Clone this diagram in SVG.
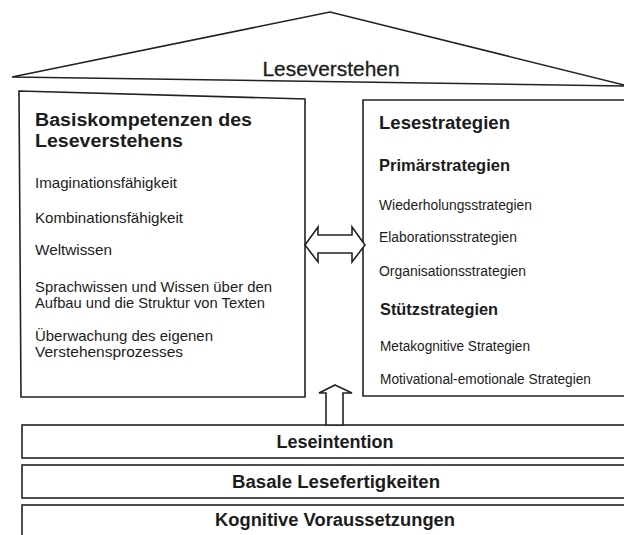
<svg xmlns="http://www.w3.org/2000/svg" width="624" height="535" viewBox="0 0 624 535">
<style>
  .ln{fill:#fff;stroke:#222;stroke-width:1.6;stroke-linejoin:miter}
  text{font-family:"Liberation Sans",Arial,sans-serif;fill:#1c1c1c}
  .b{font-weight:bold}
  .t{font-size:18px;font-weight:bold}
  .h{font-size:16.5px;font-weight:bold}
  .i{font-size:15px}
  .r{font-size:14px}
  .bar{font-size:18px;font-weight:bold}
</style>
<rect width="624" height="535" fill="#fff"/>
<g id="roof">
  <path class="ln" d="M12,77 L330,12 L628,86 L12,77 Z"/>
  <text x="331" y="76" font-size="20" text-anchor="middle" textLength="137" lengthAdjust="spacingAndGlyphs" stroke="#1c1c1c" stroke-width="0.3">Leseverstehen</text>
</g>
<g id="basiskompetenzen">
  <path class="ln" d="M19,91 L305,99 L305,397 L21,397 Z"/>
  <text class="t" x="35" y="126" textLength="217" lengthAdjust="spacingAndGlyphs">Basiskompetenzen des</text>
  <text class="t" x="35" y="147" textLength="148" lengthAdjust="spacingAndGlyphs">Leseverstehens</text>
  <text class="i" x="35" y="188" textLength="142" lengthAdjust="spacingAndGlyphs">Imaginationsfähigkeit</text>
  <text class="i" x="35" y="223" textLength="148" lengthAdjust="spacingAndGlyphs">Kombinationsfähigkeit</text>
  <text class="i" x="35" y="255" textLength="77" lengthAdjust="spacingAndGlyphs">Weltwissen</text>
  <text class="i" x="35" y="292" textLength="237" lengthAdjust="spacingAndGlyphs">Sprachwissen und Wissen über den</text>
  <text class="i" x="35" y="308" textLength="230" lengthAdjust="spacingAndGlyphs">Aufbau und die Struktur von Texten</text>
  <text class="i" x="35" y="341" textLength="178" lengthAdjust="spacingAndGlyphs">Überwachung des eigenen</text>
  <text class="i" x="35" y="357" textLength="148" lengthAdjust="spacingAndGlyphs">Verstehensprozesses</text>
</g>
<g id="lesestrategien">
  <path class="ln" d="M630,100 L363,100 L363,396 L630,396"/>
  <text class="b" font-size="18.6" x="379" y="129" textLength="131" lengthAdjust="spacingAndGlyphs">Lesestrategien</text>
  <text class="h" x="379" y="171" textLength="131" lengthAdjust="spacingAndGlyphs">Primärstrategien</text>
  <text class="r" x="379" y="210" textLength="153" lengthAdjust="spacingAndGlyphs">Wiederholungsstrategien</text>
  <text class="r" x="379" y="242" textLength="138" lengthAdjust="spacingAndGlyphs">Elaborationsstrategien</text>
  <text class="r" x="379" y="276" textLength="147" lengthAdjust="spacingAndGlyphs">Organisationsstrategien</text>
  <text class="h" x="380" y="315" textLength="118" lengthAdjust="spacingAndGlyphs">Stützstrategien</text>
  <text class="r" x="380" y="351" textLength="150" lengthAdjust="spacingAndGlyphs">Metakognitive Strategien</text>
  <text class="r" x="380" y="384" textLength="211" lengthAdjust="spacingAndGlyphs">Motivational-emotionale Strategien</text>
</g>
<g id="leseintention">
  <rect class="ln" x="22" y="425" width="610" height="33"/>
  <text class="bar" x="335" y="448" text-anchor="middle" textLength="117" lengthAdjust="spacingAndGlyphs">Leseintention</text>
</g>
<g id="basale">
  <rect class="ln" x="22" y="465" width="610" height="33"/>
  <text class="bar" x="336" y="488" text-anchor="middle" textLength="208" lengthAdjust="spacingAndGlyphs">Basale Lesefertigkeiten</text>
</g>
<g id="kognitive">
  <rect class="ln" x="22" y="505" width="610" height="40"/>
  <text class="bar" x="335" y="526" text-anchor="middle" textLength="240" lengthAdjust="spacingAndGlyphs">Kognitive Voraussetzungen</text>
</g>
<g id="connectors">
  <path class="ln" d="M305,245 L318,227 L318,235 L352,235 L352,227 L365,245 L352,262 L352,253 L318,253 L318,262 Z"/>
  <path class="ln" d="M335,385 L352,393 L343,393 L343,425 L326,425 L326,393 L319,393 Z"/>
</g>
</svg>
